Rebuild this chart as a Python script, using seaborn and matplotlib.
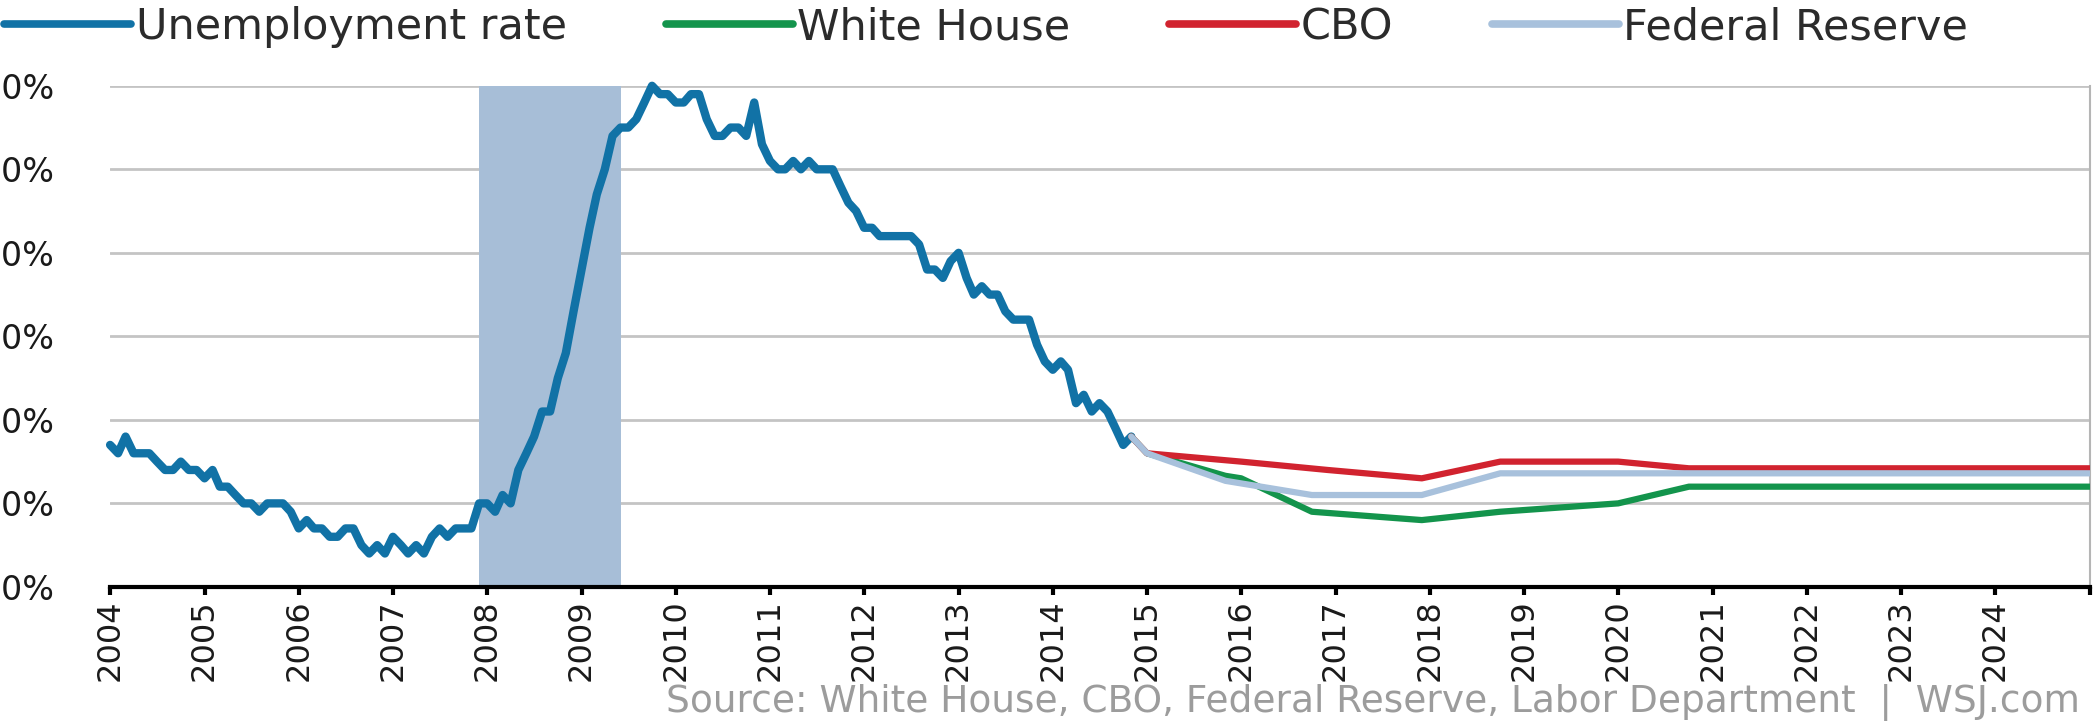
import pandas as pd
import numpy as np
import matplotlib
matplotlib.use("Agg")
import matplotlib.pyplot as plt
import seaborn as sns

# monthly unemployment rate, Jan 2004 - Nov 2014 (%)
rate_2004 = [5.7, 5.6, 5.8, 5.6, 5.6, 5.6, 5.5, 5.4, 5.4, 5.5, 5.4, 5.4]
rate_2005 = [5.3, 5.4, 5.2, 5.2, 5.1, 5.0, 5.0, 4.9, 5.0, 5.0, 5.0, 4.9]
rate_2006 = [4.7, 4.8, 4.7, 4.7, 4.6, 4.6, 4.7, 4.7, 4.5, 4.4, 4.5, 4.4]
rate_2007 = [4.6, 4.5, 4.4, 4.5, 4.4, 4.6, 4.7, 4.6, 4.7, 4.7, 4.7, 5.0]
rate_2008 = [5.0, 4.9, 5.1, 5.0, 5.4, 5.6, 5.8, 6.1, 6.1, 6.5, 6.8, 7.3]
rate_2009 = [7.8, 8.3, 8.7, 9.0, 9.4, 9.5, 9.5, 9.6, 9.8, 10.0, 9.9, 9.9]
rate_2010 = [9.8, 9.8, 9.9, 9.9, 9.6, 9.4, 9.4, 9.5, 9.5, 9.4, 9.8, 9.3]
rate_2011 = [9.1, 9.0, 9.0, 9.1, 9.0, 9.1, 9.0, 9.0, 9.0, 8.8, 8.6, 8.5]
rate_2012 = [8.3, 8.3, 8.2, 8.2, 8.2, 8.2, 8.2, 8.1, 7.8, 7.8, 7.7, 7.9]
rate_2013 = [8.0, 7.7, 7.5, 7.6, 7.5, 7.5, 7.3, 7.2, 7.2, 7.2, 6.9, 6.7]
rate_2014 = [6.6, 6.7, 6.6, 6.2, 6.3, 6.1, 6.2, 6.1, 5.9, 5.7, 5.8]

# projections (date, %)
wh_dates = ["2014-11", "2015-01", "2015-11", "2016-01", "2016-10", "2017-12",
            "2018-10", "2020-01", "2020-10", "2025-01"]
wh_vals = [5.8, 5.6, 5.33, 5.3, 4.9, 4.8, 4.9, 5.0, 5.2, 5.2]
cbo_dates = ["2014-11", "2015-01", "2016-01", "2016-12", "2017-12", "2018-10",
             "2020-01", "2020-10", "2025-01"]
cbo_vals = [5.8, 5.6, 5.5, 5.4, 5.3, 5.5, 5.5, 5.42, 5.42]
fed_dates = ["2014-11", "2015-01", "2015-11", "2016-10", "2017-12", "2018-10", "2025-01"]
fed_vals = [5.8, 5.6, 5.27, 5.1, 5.1, 5.36, 5.36]

recession = ("2007-12-01", "2009-06-01")
years = list(range(2004, 2026))

BLUE = "#1172a6"
GREEN = "#13944c"
RED = "#d1232f"
FED = "#a8c1dc"
SHADE = "#a7bed7"

rate = (rate_2004 + rate_2005 + rate_2006 + rate_2007 + rate_2008 + rate_2009
        + rate_2010 + rate_2011 + rate_2012 + rate_2013 + rate_2014)
actual = pd.DataFrame({"date": pd.date_range("2004-01-01", periods=len(rate), freq="MS"),
                       "rate": rate})

sns.set_theme(style="white")
plt.rcParams["font.family"] = ["DejaVu Sans"]

fig = plt.figure(figsize=(20.97, 7.21), dpi=100)
ax = fig.add_axes([0.0525, 0.186, 0.944, 0.695])

ax.axvspan(pd.Timestamp(recession[0]), pd.Timestamp(recession[1]),
           color=SHADE, lw=0, zorder=1)

sns.lineplot(data=actual, x="date", y="rate", color=BLUE, lw=6,
             label="Unemployment rate", ax=ax, zorder=3, clip_on=False)
sns.lineplot(x=pd.to_datetime(wh_dates), y=wh_vals, color=GREEN, lw=4.5,
             label="White House", ax=ax, zorder=4)
sns.lineplot(x=pd.to_datetime(cbo_dates), y=cbo_vals, color=RED, lw=4.5,
             label="CBO", ax=ax, zorder=5)
sns.lineplot(x=pd.to_datetime(fed_dates), y=fed_vals, color=FED, lw=4.5,
             label="Federal Reserve", ax=ax, zorder=6)

ax.set_xlim(pd.Timestamp("2004-01-01"), pd.Timestamp("2025-01-01"))
ax.set_ylim(4, 10)
ax.set_yticks(range(4, 11))
ax.set_yticklabels([f"{v:.1f}%" for v in range(4, 11)], fontsize=24, color="#1a1a1a")
ax.tick_params(axis="y", length=0, pad=40)

ticks = pd.to_datetime([f"{y}-01-01" for y in years])
ax.set_xticks(ticks)
ax.set_xticklabels([str(y) if y < 2025 else "" for y in years],
                   rotation=90, fontsize=23, color="#1a1a1a")
ax.tick_params(axis="x", bottom=True, direction="out", length=6, width=3,
               color="black", pad=3)
ax.set_xlabel("")
ax.set_ylabel("")

ax.set_axisbelow(True)
ax.yaxis.grid(True, color="#c4c4c4", lw=2)
ax.xaxis.grid(False)
ax.spines["left"].set_visible(False)
ax.spines["top"].set_visible(False)
ax.spines["right"].set_color("#b5b5b5")
ax.spines["right"].set_linewidth(1.5)
ax.spines["bottom"].set_color("black")
ax.spines["bottom"].set_linewidth(3)

handles, labels = ax.get_legend_handles_labels()
ax.get_legend().remove()
leg = fig.legend(handles, labels, ncol=4, loc="center left",
                 bbox_to_anchor=(0.002, 0.962), frameon=False, fontsize=31,
                 handlelength=2.95, handletextpad=0.1, columnspacing=2.3,
                 borderaxespad=0, borderpad=0)
for t in leg.get_texts():
    t.set_color("#2b2b2b")
for h in leg.legend_handles:
    h.set_linewidth(5.5)

fig.text(0.992, 0.026,
         "Source: White House, CBO, Federal Reserve, Labor Department  |  WSJ.com",
         ha="right", va="center", fontsize=27, color="#9c9c9c")

fig.savefig("out.png", dpi=100)
